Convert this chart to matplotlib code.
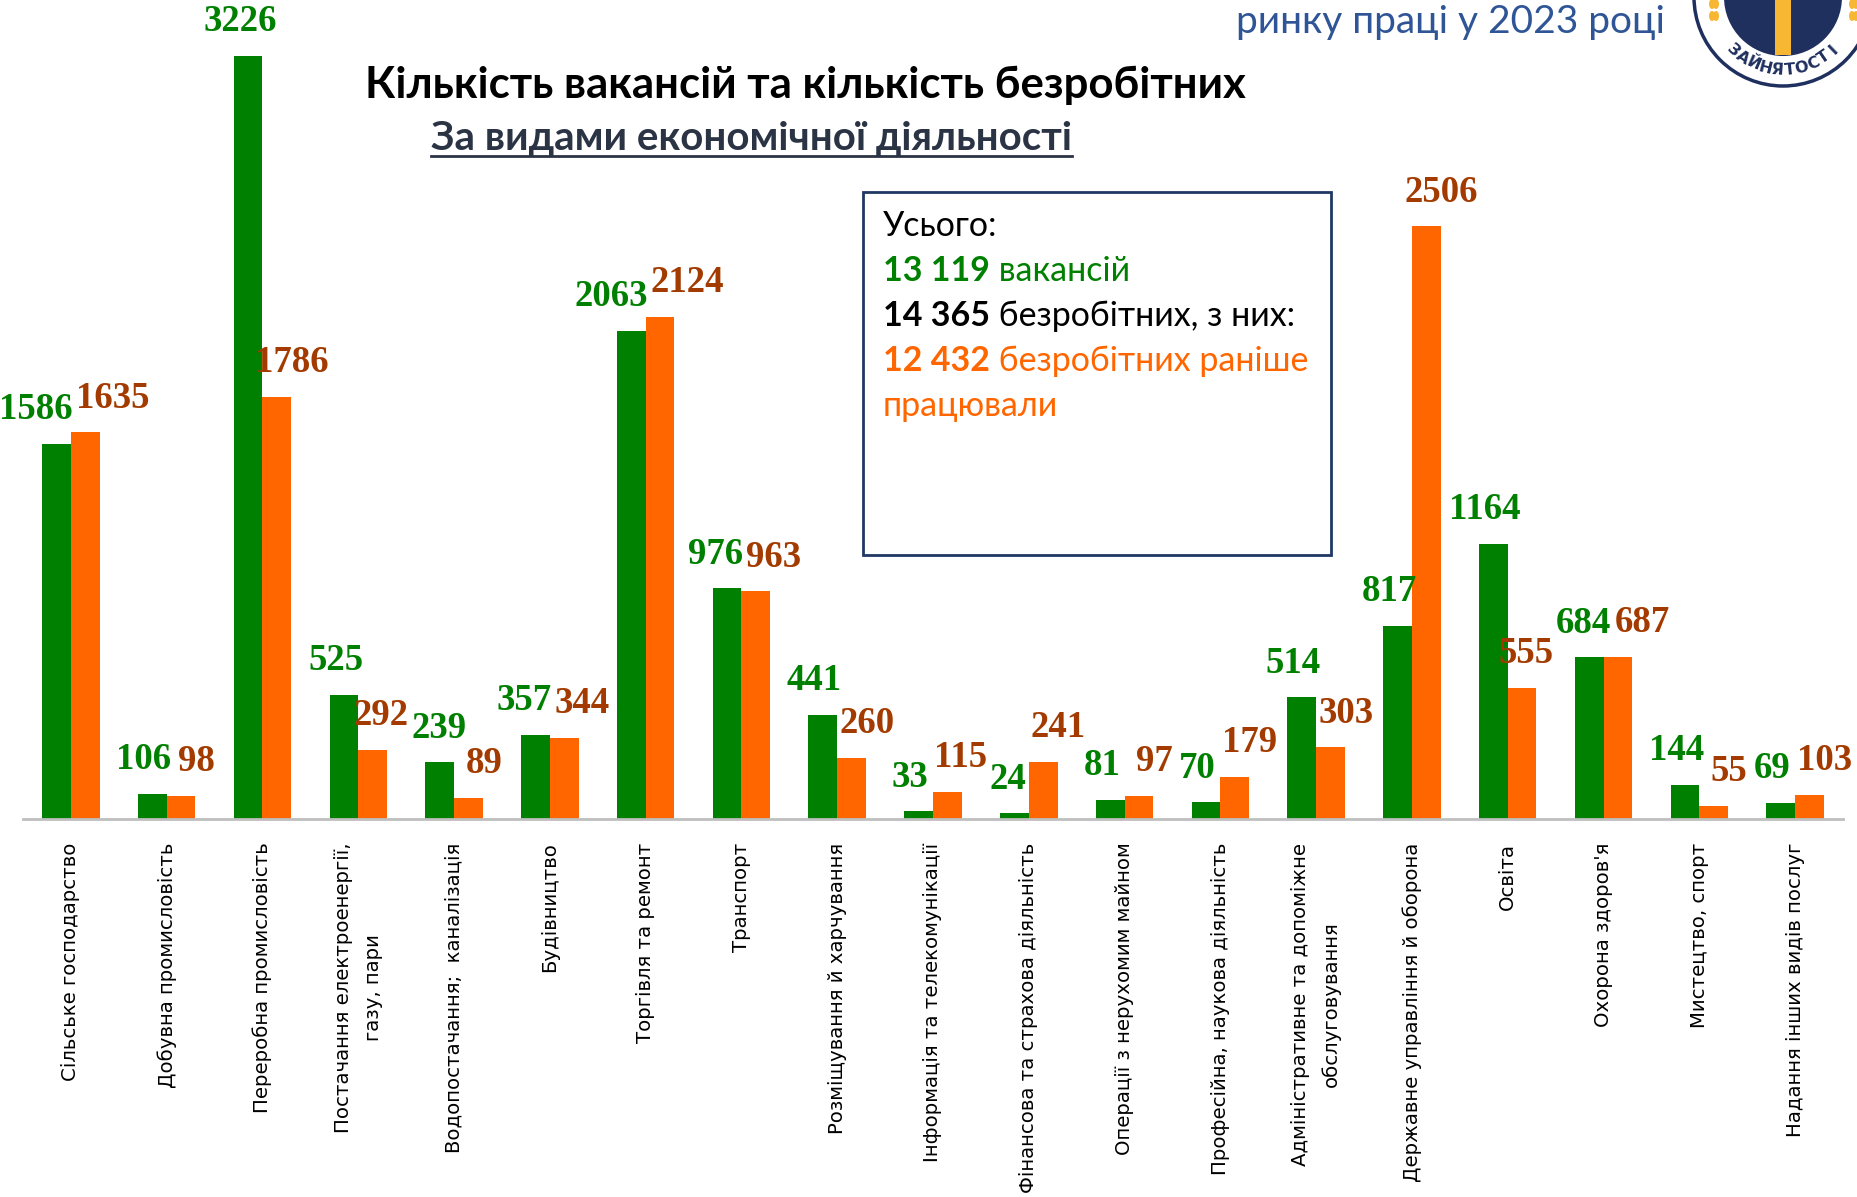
"""Вакансії та безробітні за видами економічної діяльності, 2023."""
import matplotlib
matplotlib.use('Agg')
import matplotlib.pyplot as plt
import numpy as np
from matplotlib.patches import Circle, Rectangle, Ellipse
from matplotlib.lines import Line2D

plt.rcParams['font.family'] = ['DejaVu Sans']

W, H = 1858, 1197
DPI = 100

# ═══ Data ═══
categories = [
    'Сільське господарство',
    'Добувна промисловість',
    'Переробна промисловість',
    'Постачання електроенергії,\nгазу, пари',
    'Водопостачання;  каналізація',
    'Будівництво',
    'Торгівля та ремонт',
    'Транспорт',
    'Розміщування й харчування',
    'Інформація та телекомунікації',
    'Фінансова та страхова діяльність',
    'Операції з нерухомим майном',
    'Професійна, наукова діяльність',
    'Адміністративне та допоміжне\nобслуговування',
    'Державне управління й оборона',
    'Освіта',
    "Охорона здоров'я",
    'Мистецтво, спорт',
    'Надання інших видів послуг',
]
vacancies = [1586, 106, 3226, 525, 239, 357, 2063, 976, 441, 33,
             24, 81, 70, 514, 817, 1164, 684, 144, 69]
unemployed = [1635, 98, 1786, 292, 89, 344, 2124, 963, 260, 115,
              241, 97, 179, 303, 2506, 555, 687, 55, 103]

total_vac = '13 119'
total_unemp = '14 365'
total_prev = '12 432'

GREEN = '#008000'
ORANGE = '#FF6600'
BROWN = '#A33B00'
NAVY = '#1F2F5E'
GOLD = '#F7B733'

CALIBRI = ['Lato', 'Open Sans', 'DejaVu Sans']

fig = plt.figure(figsize=(W / DPI, H / DPI), dpi=DPI)

# ═══ Main bar axes ═══
base_y = 819
ax = fig.add_axes([23 / W, (H - base_y) / H, (1843 - 23) / W, base_y / H])
x = np.arange(len(categories))
bw = 0.30
ax.bar(x - bw / 2, vacancies, bw, color=GREEN, zorder=2)
ax.bar(x + bw / 2, unemployed, bw, color=ORANGE, zorder=2)
ax.set_xlim(-0.5, len(categories) - 0.5)
ax.set_ylim(0, base_y / 0.2365)
for s in ['top', 'right', 'left']:
    ax.spines[s].set_visible(False)
ax.spines['bottom'].set_color('#BFBFBF')
ax.spines['bottom'].set_linewidth(2)
ax.set_yticks([])
ax.set_xticks(x)
ax.set_xticklabels(categories, rotation=90, fontsize=14.2, ha='center', va='top',
                   multialignment='center', linespacing=1.75)
ax.tick_params(axis='x', length=0, pad=17)
ax.patch.set_alpha(0)

# value labels
lab_kw = dict(textcoords='offset points', ha='center', va='bottom', fontsize=26.5,
              fontweight='bold', family=['Liberation Serif', 'DejaVu Serif'],
              annotation_clip=False, zorder=5)
dy = 12
anns = []
for i in range(len(categories)):
    g = ax.annotate(str(vacancies[i]), (x[i] - bw / 2, vacancies[i]), xytext=(-6, dy),
                    color=GREEN, **lab_kw)
    o = ax.annotate(str(unemployed[i]), (x[i] + bw / 2, unemployed[i]), xytext=(11, dy),
                    color=BROWN, **lab_kw)
    anns += [g, o]

# push apart neighbouring labels that collide
for _ in range(3):
    fig.canvas.draw()
    r = fig.canvas.get_renderer()
    for a, b in zip(anns[:-1], anns[1:]):
        ba = a.get_window_extent(r)
        bb = b.get_window_extent(r)
        gap = 3
        if ba.x1 + gap > bb.x0 and ba.y1 > bb.y0 and bb.y1 > ba.y0:
            shift = (ba.x1 + gap - bb.x0) / 2 * 72 / DPI
            a.xyann = (a.xyann[0] - shift, a.xyann[1])
            b.xyann = (b.xyann[0] + shift, b.xyann[1])

# ═══ Overlay in pixel coords ═══
ov = fig.add_axes([0, 0, 1, 1], zorder=10)
ov.set_xlim(0, W)
ov.set_ylim(H, 0)
ov.axis('off')
ov.patch.set_alpha(0)

# Titles
ov.text(805, 98, 'Кількість вакансій та кількість безробітних', ha='center', va='baseline',
        fontsize=31.5, fontweight='bold', color='black', family=CALIBRI)
sub = ov.text(752, 150, 'За видами економічної діяльності', ha='center', va='baseline',
              fontsize=29, fontweight='bold', color='#2B3445', family=CALIBRI)
ov.text(1665, 33, 'ринку праці у 2023 році', ha='right', va='baseline',
        fontsize=28, color='#2F5597', family=CALIBRI)

fig.canvas.draw()
r = fig.canvas.get_renderer()
bb = sub.get_window_extent(r)
ov.add_line(Line2D([bb.x0, bb.x1], [156, 156], color='#2B3445', lw=2))

# ═══ Summary box ═══
ov.add_patch(Rectangle((863, 192), 468, 363, fill=False, edgecolor='#203864', lw=2, zorder=3))


def put_line(y, pieces):
    """Draw text pieces side by side from the left of the box."""
    xx = 883
    for txt, col, wt in pieces:
        t = ov.text(xx, y, txt, ha='left', va='baseline', fontsize=24.5, color=col,
                    fontweight=wt, family=CALIBRI)
        fig.canvas.draw()
        xx = t.get_window_extent(fig.canvas.get_renderer()).x1


put_line(236, [('Усього:', 'black', 'normal')])
put_line(281, [(total_vac, GREEN, 'bold'), (' вакансій', GREEN, 'normal')])
put_line(326, [(total_unemp, 'black', 'bold'), (' безробітних, з них:', 'black', 'normal')])
put_line(371, [(total_prev, ORANGE, 'bold'), (' безробітних раніше', ORANGE, 'normal')])
put_line(416, [('працювали', ORANGE, 'normal')])

# ═══ Logo (partially visible) ═══
cx, cy = 1783, -3
ov.add_patch(Circle((cx, cy), 89, facecolor='white', edgecolor=NAVY, lw=2.5, zorder=4))
ov.add_patch(Circle((cx, cy), 59, facecolor=NAVY, edgecolor='none', zorder=5))
ov.add_patch(Rectangle((cx - 8, -5), 16, 60, facecolor=GOLD, edgecolor='none', zorder=6))
for ex in [1712, 1716, 1852, 1856]:
    for ey in [4, 16]:
        ov.add_patch(Ellipse((ex, ey), 6, 10, facecolor=GOLD, edgecolor='none', zorder=6))
word = 'ЗАЙНЯТОСТІ'
angs = np.linspace(-133, -46, len(word))
for ch, a in zip(word, angs):
    rad = np.radians(a)
    ov.text(cx + 73 * np.cos(rad), cy - 73 * np.sin(rad), ch, ha='center', va='center',
            rotation=a + 90, fontsize=11.5, fontweight='bold', color=NAVY, zorder=7)

fig.savefig('out.png', dpi=DPI)
